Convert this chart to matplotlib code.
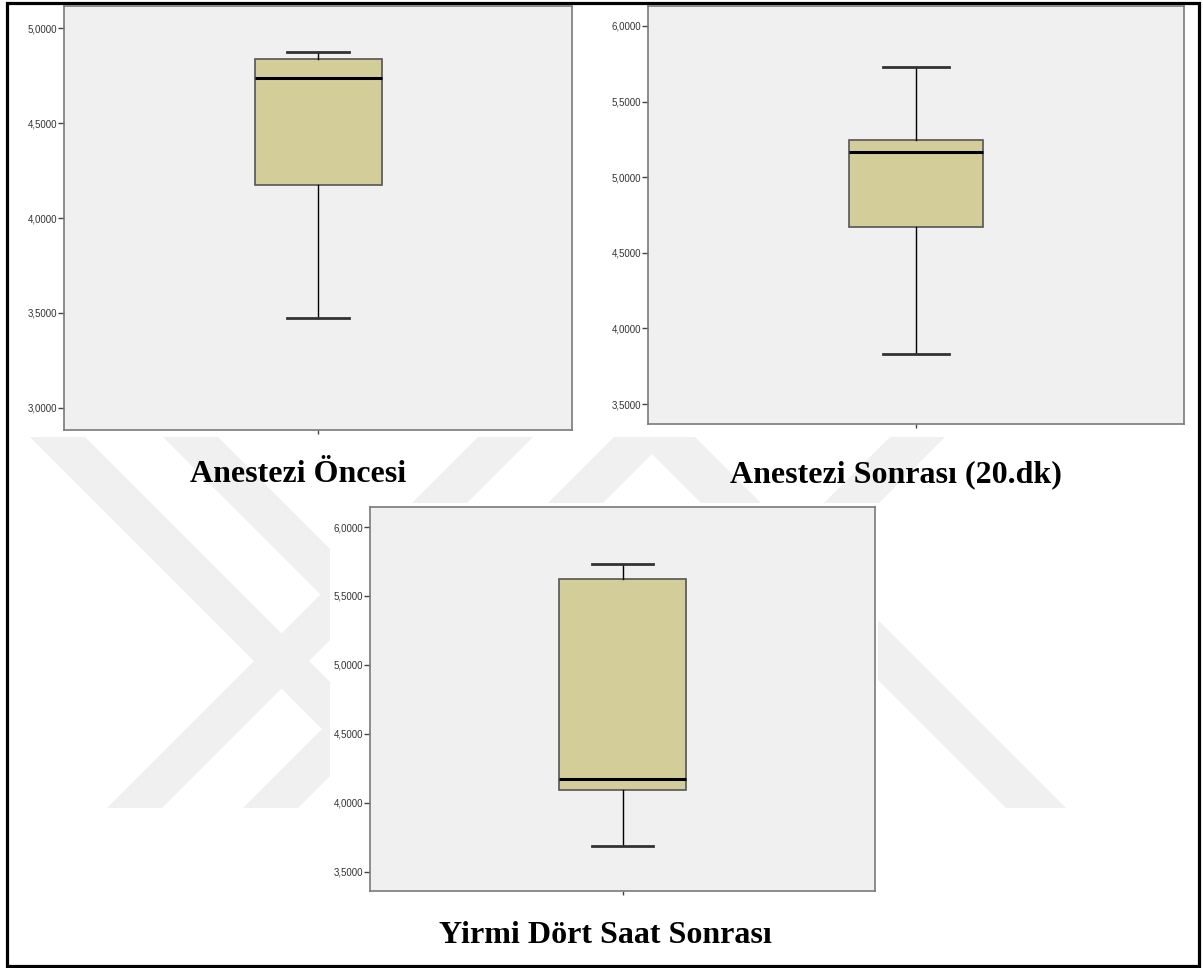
import matplotlib
matplotlib.use("Agg")
import matplotlib.pyplot as plt
from matplotlib.patches import Polygon, Rectangle
from matplotlib.ticker import FuncFormatter

# -----------------------------
# DATA (box summaries per measurement time)
# -----------------------------
titles = ["Anestezi Öncesi", "Anestezi Sonrası (20.dk)", "Yirmi Dört Saat Sonrası"]

whislo = [3.474, 3.828, 3.688]
q1 = [4.174, 4.669, 4.094]
med = [4.737, 5.167, 4.174]
q3 = [4.837, 5.245, 5.623]
whishi = [4.876, 5.728, 5.732]

yticks = [
    [3.0, 3.5, 4.0, 4.5, 5.0],
    [3.5, 4.0, 4.5, 5.0, 5.5, 6.0],
    [3.5, 4.0, 4.5, 5.0, 5.5, 6.0],
]
ylims = [(2.884, 5.116), (3.368, 6.132), (3.362, 6.145)]

# -----------------------------
# LAYOUT (pixels, origin top-left)
# -----------------------------
W, H = 1203, 968
axes_px = [(64, 6, 572, 430), (648, 6, 1184, 424), (370, 507, 875, 891)]
title_px = [(298, 482), (896, 482), (605, 943)]

BOX_FILL = "#D3CE99"
PANEL_BG = "#F0F0F0"
FRAME = "#7A7A7A"

fig = plt.figure(figsize=(W / 100, H / 100), dpi=100)
fig.patch.set_facecolor("white")

# page layer: watermark, image backgrounds, border
bg = fig.add_axes([0, 0, 1, 1], zorder=-10)
bg.set_xlim(0, W)
bg.set_ylim(H, 0)
bg.axis("off")

WM = "#F0F0F0"
y_top, y_bot = 437, 808
back_bands = [(352, 407), (219, 274), (-258, -198)]     # "\" bands: y - x in range
fwd_bands = [(915, 970), (1051, 1106), (1327, 1382)]    # "/" bands: x + y in range
for c1, c2 in back_bands:
    pts = [(y_top - c2, y_top), (y_top - c1, y_top), (y_bot - c1, y_bot), (y_bot - c2, y_bot)]
    bg.add_patch(Polygon(pts, closed=True, facecolor=WM, edgecolor="none", zorder=1))
for s1, s2 in fwd_bands:
    pts = [(s1 - y_top, y_top), (s2 - y_top, y_top), (s2 - y_bot, y_bot), (s1 - y_bot, y_bot)]
    bg.add_patch(Polygon(pts, closed=True, facecolor=WM, edgecolor="none", zorder=1))

# white background of the lower chart image
bg.add_patch(Rectangle((330, 503), 548, 402, facecolor="white", edgecolor="none", zorder=2))
# outer frame
bg.add_patch(Rectangle((7, 3), 1192, 963, facecolor="none", edgecolor="black", linewidth=2.3, zorder=3))

fmt = FuncFormatter(lambda v, p: f"{v:.4f}".replace(".", ","))

for i in range(3):
    x0, y0, x1, y1 = axes_px[i]
    ax = fig.add_axes([x0 / W, 1 - y1 / H, (x1 - x0) / W, (y1 - y0) / H])
    ax.set_facecolor(PANEL_BG)

    stats = [{
        "med": med[i], "q1": q1[i], "q3": q3[i],
        "whislo": whislo[i], "whishi": whishi[i], "fliers": [],
    }]
    ax.bxp(
        stats, positions=[1], widths=0.5, capwidths=0.244,
        patch_artist=True, showfliers=False,
        boxprops=dict(facecolor=BOX_FILL, edgecolor="#555555", linewidth=1.2),
        medianprops=dict(color="black", linewidth=2.2),
        whiskerprops=dict(color="black", linewidth=1.0),
        capprops=dict(color="#333333", linewidth=2.0),
    )

    ax.set_xlim(0, 2)
    ax.set_ylim(*ylims[i])
    ax.set_yticks(yticks[i])
    ax.yaxis.set_major_formatter(fmt)
    ax.set_xticks([1])
    ax.set_xticklabels([""])
    ax.tick_params(axis="y", direction="out", length=4, width=1, color="#444444",
                   labelsize=7, labelcolor="#333333", pad=1)
    ax.tick_params(axis="x", direction="out", length=3, width=1, color="#444444")
    for lbl in ax.get_yticklabels():
        lbl.set_family("Liberation Sans")
    for sp in ax.spines.values():
        sp.set_color(FRAME)
        sp.set_linewidth(1.2)

    tx, ty = title_px[i]
    fig.text(tx / W, 1 - ty / H, titles[i], ha="center", va="baseline",
             fontsize=23, fontweight="bold", family="Liberation Serif", color="black")

fig.savefig("out.png", dpi=100, facecolor="white")
